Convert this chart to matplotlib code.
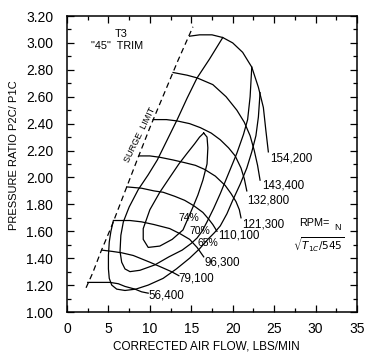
import matplotlib
matplotlib.use("Agg")
import matplotlib.pyplot as plt
import numpy as np

plt.rcParams['font.family'] = ['Liberation Sans', 'DejaVu Sans']

# ---- data ----
surge_x = [2.3, 3.1, 4.1, 5.4, 6.9, 8.4, 10.0, 11.7, 13.4, 15.2]
surge_y = [1.18, 1.29, 1.45, 1.64, 1.88, 2.12, 2.37, 2.62, 2.87, 3.12]

speed_labels = ["154,200", "143,400", "132,800", "121,300", "110,100", "96,300", "79,100", "56,400"]
s154_x = [14.8, 16.0, 17.5, 18.8, 20.0, 21.2, 22.3, 23.1, 23.7, 24.0, 24.3]
s154_y = [3.05, 3.06, 3.06, 3.04, 3.00, 2.93, 2.82, 2.67, 2.52, 2.35, 2.19]
s143_x = [12.8, 14.5, 15.7, 17.6, 19.2, 20.5, 21.4, 22.1, 22.6, 23.0, 23.3]
s143_y = [2.78, 2.76, 2.74, 2.69, 2.60, 2.50, 2.41, 2.31, 2.20, 2.09, 1.98]
s132_x = [10.4, 12.0, 13.3, 14.8, 16.1, 17.4, 18.5, 19.5, 20.3, 21.0, 21.4, 21.7]
s132_y = [2.43, 2.43, 2.42, 2.40, 2.37, 2.33, 2.28, 2.22, 2.16, 2.07, 1.99, 1.90]
s121_x = [8.7, 10.0, 11.2, 12.8, 14.2, 15.5, 16.6, 17.9, 19.1, 19.8, 20.4, 20.8, 21.0]
s121_y = [2.16, 2.16, 2.15, 2.13, 2.11, 2.09, 2.06, 2.01, 1.94, 1.88, 1.82, 1.76, 1.70]
s110_x = [7.2, 9.0, 10.5, 11.6, 13.0, 14.2, 15.3, 16.4, 17.1, 17.6, 18.1]
s110_y = [1.93, 1.92, 1.90, 1.89, 1.86, 1.83, 1.79, 1.74, 1.69, 1.65, 1.60]
s96_x = [5.7, 7.6, 9.0, 10.5, 12.4, 13.7, 14.8, 15.7, 16.5]
s96_y = [1.68, 1.68, 1.67, 1.65, 1.62, 1.58, 1.54, 1.48, 1.41]
s79_x = [4.2, 5.5, 6.6, 8.0, 9.2, 10.0, 11.5, 12.6, 13.5]
s79_y = [1.46, 1.45, 1.44, 1.42, 1.39, 1.37, 1.33, 1.30, 1.27]
s56_x = [2.5, 3.8, 5.2, 6.2, 7.0, 8.2, 9.0, 9.8]
s56_y = [1.22, 1.22, 1.22, 1.21, 1.19, 1.17, 1.15, 1.14]
speed_label_x = [24.5, 23.6, 21.8, 21.2, 18.2, 16.6, 13.4, 9.8]
speed_label_y = [2.14, 1.94, 1.83, 1.65, 1.57, 1.37, 1.25, 1.12]

eff_labels = ["74%", "70%", "65%"]
e74_x = [16.5, 16.9, 17.0, 16.9, 16.4, 15.8, 15.2, 14.0, 12.7, 11.2, 9.8, 9.2, 9.2, 10.0, 11.2, 12.4, 13.5, 14.5, 15.4, 16.0, 16.5]
e74_y = [2.33, 2.30, 2.22, 2.10, 1.98, 1.87, 1.78, 1.61, 1.54, 1.49, 1.48, 1.54, 1.62, 1.76, 1.89, 2.00, 2.10, 2.18, 2.25, 2.30, 2.33]
e70_x = [18.8, 17.2, 15.7, 14.5, 13.3, 12.1, 10.9, 9.8, 8.6, 7.5, 6.8, 6.5, 6.4, 6.6, 7.0, 7.6, 8.8, 10.6, 12.3, 13.9,
         15.0, 15.7, 16.3, 16.9, 17.7, 18.5, 19.5, 20.5, 21.3, 21.8, 22.1, 22.3]
e70_y = [3.04, 2.88, 2.74, 2.59, 2.43, 2.28, 2.13, 2.02, 1.91, 1.78, 1.67, 1.57, 1.45, 1.37, 1.32, 1.30, 1.31, 1.35, 1.41, 1.46,
         1.51, 1.55, 1.60, 1.67, 1.77, 1.88, 2.03, 2.18, 2.32, 2.43, 2.60, 2.82]
e65_x = [5.6, 5.3, 5.1, 5.0, 5.0, 5.1, 5.4, 6.0, 7.0, 8.3, 9.8, 11.6, 13.2, 14.8, 16.0, 17.0, 17.8, 18.5, 19.3,
         20.0, 20.9, 21.7, 22.3, 22.8, 23.1, 23.3]
e65_y = [1.68, 1.60, 1.52, 1.42, 1.32, 1.25, 1.20, 1.17, 1.16, 1.17, 1.20, 1.25, 1.32, 1.40, 1.47, 1.54, 1.59, 1.64, 1.73,
         1.83, 1.95, 2.07, 2.19, 2.31, 2.45, 2.63]
eff_label_x = [13.4, 14.8, 15.7]
eff_label_y = [1.70, 1.60, 1.51]

x_ticks = [0, 5, 10, 15, 20, 25, 30, 35]
y_ticks = [1.00, 1.20, 1.40, 1.60, 1.80, 2.00, 2.20, 2.40, 2.60, 2.80, 3.00, 3.20]

# ---- figure ----
fig = plt.figure(figsize=(3.75, 3.58), dpi=100)
ax = fig.add_axes([67/375, 46/358, 290/375, 296/358])
lw = 0.9
ax.plot(surge_x, surge_y, color='black', lw=lw, linestyle=(0, (4.5, 3)))

speeds = [(s154_x, s154_y), (s143_x, s143_y), (s132_x, s132_y), (s121_x, s121_y),
          (s110_x, s110_y), (s96_x, s96_y), (s79_x, s79_y), (s56_x, s56_y)]
for (sx, sy) in speeds:
    ax.plot(sx, sy, color='black', lw=lw)
for lab, lx, ly in zip(speed_labels, speed_label_x, speed_label_y):
    ax.text(lx, ly, lab, fontsize=8.4, ha='left', va='center')

for (ex, ey) in [(e74_x, e74_y), (e70_x, e70_y), (e65_x, e65_y)]:
    ax.plot(ex, ey, color='black', lw=lw)
for lab, lx, ly in zip(eff_labels, eff_label_x, eff_label_y):
    ax.text(lx, ly, lab, fontsize=7.5, ha='left', va='center')

ax.text(6.5, 3.065, "T3", fontsize=7.8, ha='center', va='center')
ax.text(6.0, 2.98, '"45"  TRIM', fontsize=7.8, ha='center', va='center')
ax.text(8.8, 2.32, "SURGE  LIMIT", fontsize=6.5, ha='center', va='center', rotation=64)
ax.text(28.0, 1.665, "RPM=", fontsize=7.8, ha='left', va='center')
ax.text(32.3, 1.625, "N", fontsize=6.5, ha='left', va='center')
ax.text(30.4, 1.50, r"$\sqrt{T_{1C}/545}$", fontsize=7.5, ha='center', va='center')

ax.set_xlim(0, 35)
ax.set_ylim(1.0, 3.2)
ax.set_xticks(x_ticks)
ax.set_xticklabels([str(v) for v in x_ticks])
ax.set_xticks(np.arange(0, 35.1, 2.5), minor=True)
ax.set_yticks(y_ticks)
ax.set_yticklabels(["%.2f" % v for v in y_ticks])
ax.set_yticks(np.arange(1.0, 3.21, 0.1), minor=True)
ax.tick_params(which='both', direction='in', top=True, right=True, width=0.9)
ax.tick_params(which='major', length=5)
ax.tick_params(which='minor', length=3)
ax.tick_params(axis='y', which='major', labelsize=10, pad=10)
ax.tick_params(axis='x', which='major', labelsize=10, pad=7)
for s in ax.spines.values():
    s.set_linewidth(1.1)

ax.set_xlabel("CORRECTED AIR FLOW, LBS/MIN", fontsize=8.5)
ax.set_ylabel("PRESSURE RATIO P2C/ P1C", fontsize=8)
ax.xaxis.set_label_coords(0.48, -0.095)
ax.yaxis.set_label_coords(-0.165, 0.53)

fig.savefig("out.png", dpi=100)
